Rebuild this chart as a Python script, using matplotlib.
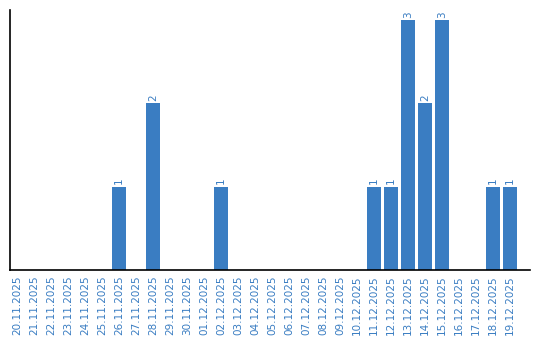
import matplotlib
matplotlib.use("Agg")
import matplotlib.pyplot as plt

dates = ["20.11.2025", "21.11.2025", "22.11.2025", "23.11.2025", "24.11.2025",
         "25.11.2025", "26.11.2025", "27.11.2025", "28.11.2025", "29.11.2025",
         "30.11.2025", "01.12.2025", "02.12.2025", "03.12.2025", "04.12.2025",
         "05.12.2025", "06.12.2025", "07.12.2025", "08.12.2025", "09.12.2025",
         "10.12.2025", "11.12.2025", "12.12.2025", "13.12.2025", "14.12.2025",
         "15.12.2025", "16.12.2025", "17.12.2025", "18.12.2025", "19.12.2025"]
counts = [0, 0, 0, 0, 0, 0, 1, 0, 2, 0,
          0, 0, 1, 0, 0, 0, 0, 0, 0, 0,
          0, 1, 1, 3, 2, 3, 0, 0, 1, 1]

bar_color = "#3a7dc2"
text_color = "#3a7dc2"

fig = plt.figure(figsize=(5.4, 3.4), dpi=100)
ax = fig.add_axes([10/540, 70/340, 520/540, 260/340])

x = list(range(len(dates)))
ax.bar(x, counts, width=14/17, color=bar_color)
for xi, v in zip(x, counts):
    if v > 0:
        ax.text(xi, v + 0.03, str(v), rotation=90, ha="center", va="bottom",
                fontsize=7.5, color=text_color)

ax.set_xlim(-7/17, 29 + 20/17)
ax.set_ylim(0, 3.12)
ax.set_xticks(x)
ax.set_xticklabels(dates, rotation=90, fontsize=7.5, color=text_color)
ax.tick_params(axis="x", length=0, pad=4)
ax.set_yticks([])
for s in ["top", "right"]:
    ax.spines[s].set_visible(False)
ax.spines["left"].set_linewidth(1.2)
ax.spines["bottom"].set_linewidth(1.2)

fig.savefig("out.png", dpi=100)
